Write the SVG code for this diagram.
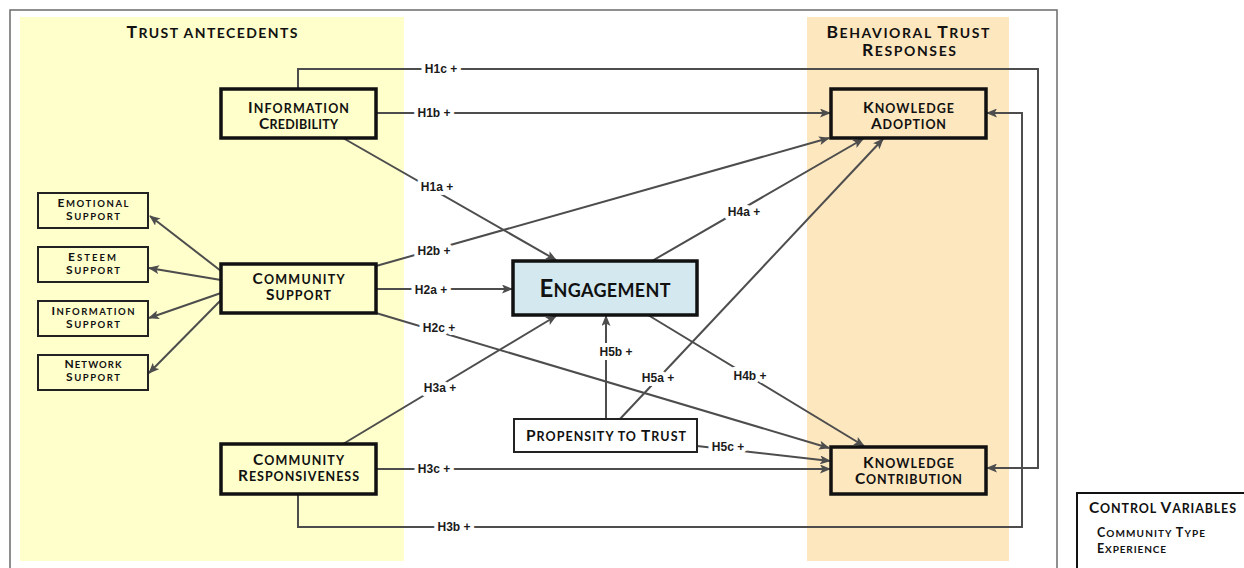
<svg xmlns="http://www.w3.org/2000/svg" width="1244" height="568" viewBox="0 0 1244 568">
<style>
.ln{fill:none;stroke:#4d4d4d;stroke-width:2}
.ar{marker-end:url(#ah)}
.nd{stroke:#111;stroke-width:3.5}
.th{stroke:#222;stroke-width:2}
.t{font-family:Lato,"Open Sans",sans-serif;font-weight:bold;fill:#111;text-anchor:middle}
.n{font-size:12.5px}.n .b{font-size:15.5px}
.e{font-size:18px}.e .b{font-size:24px}
.s{font-size:9.5px}.s .b{font-size:12px}
.h{font-size:14px}.h .b{font-size:17.5px}
.cs{font-size:10px}.cs .b{font-size:12.5px}
.lb{font-family:"Liberation Sans",Arial,sans-serif;font-weight:bold;font-size:12px;fill:#1a1a1a;text-anchor:middle;stroke:#fff;stroke-width:8;paint-order:stroke;stroke-linejoin:round}
</style>
<defs>
<marker id="ah" markerWidth="11" markerHeight="9" refX="10" refY="4.5" orient="auto" markerUnits="userSpaceOnUse"><path d="M0,0 L11,4.5 L0,9 L2.5,4.5 Z" fill="#4d4d4d"/></marker>
</defs>
<rect width="1244" height="568" fill="#fff"/>
<rect x="10" y="10" width="1047" height="600" fill="none" stroke="#6b6b6b" stroke-width="1.5"/>
<g id="panels">
<rect x="20" y="17" width="384" height="544" fill="#FFFFCC"/>
<rect x="807" y="17" width="202" height="544" fill="#FDE7BF"/>
<text class="t h" x="212" y="38" textLength="171" lengthAdjust="spacing"><tspan class="b">T</tspan>RUST ANTECEDENTS</text>
<text class="t h" x="908" y="38" textLength="163" lengthAdjust="spacing"><tspan class="b">B</tspan>EHAVIORAL <tspan class="b">T</tspan>RUST</text>
<text class="t h" x="909" y="56" textLength="94" lengthAdjust="spacing"><tspan class="b">R</tspan>ESPONSES</text>
</g>
<g id="connectors">
<path class="ln ar" d="M298,89 V69 H1038 V468 H987"/>
<path class="ln ar" d="M298,494 V527 H1022 V113 H987"/>
<path class="ln ar" d="M376,113 H830"/>
<path class="ln ar" d="M343,138 L556,260"/>
<path class="ln ar" d="M376,266 L829,138"/>
<path class="ln ar" d="M376,289 H512"/>
<path class="ln ar" d="M376,313 L829,448"/>
<path class="ln ar" d="M343,444 L556,316"/>
<path class="ln ar" d="M376,469 H830"/>
<path class="ln ar" d="M652,261 L863,139"/>
<path class="ln ar" d="M648,315 L864,446"/>
<path class="ln ar" d="M620,419 L883,139"/>
<path class="ln ar" d="M606,419 V316"/>
<path class="ln ar" d="M697,446 L830,461"/>
<path class="ln ar" d="M221,271 L150,216"/>
<path class="ln ar" d="M221,280 L149,268"/>
<path class="ln ar" d="M221,293 L149,318"/>
<path class="ln ar" d="M221,300 L149,373"/>
<text class="lb" x="441" y="73">H1c +</text>
<text class="lb" x="434" y="117">H1b +</text>
<text class="lb" x="437" y="191">H1a +</text>
<text class="lb" x="434" y="255">H2b +</text>
<text class="lb" x="431" y="294">H2a +</text>
<text class="lb" x="439" y="332">H2c +</text>
<text class="lb" x="440" y="392">H3a +</text>
<text class="lb" x="434" y="473">H3c +</text>
<text class="lb" x="454" y="531">H3b +</text>
<text class="lb" x="744" y="216">H4a +</text>
<text class="lb" x="750" y="380">H4b +</text>
<text class="lb" x="658" y="382">H5a +</text>
<text class="lb" x="616" y="356">H5b +</text>
<text class="lb" x="728" y="451">H5c +</text>
</g>
<g id="information-credibility">
<rect class="nd" x="221" y="89" width="155" height="49" fill="#FFFFCC"/>
<text class="t n" x="298.5" y="113" textLength="101" lengthAdjust="spacing"><tspan class="b">I</tspan>NFORMATION</text>
<text class="t n" x="298.5" y="129" textLength="79" lengthAdjust="spacing"><tspan class="b">C</tspan>REDIBILITY</text>
</g>
<g id="community-support">
<rect class="nd" x="221" y="264" width="155" height="49" fill="#FFFFCC"/>
<text class="t n" x="298.5" y="284" textLength="92" lengthAdjust="spacing"><tspan class="b">C</tspan>OMMUNITY</text>
<text class="t n" x="298.5" y="300" textLength="65" lengthAdjust="spacing"><tspan class="b">S</tspan>UPPORT</text>
</g>
<g id="community-responsiveness">
<rect class="nd" x="221" y="444" width="155" height="50" fill="#FFFFCC"/>
<text class="t n" x="298.5" y="465" textLength="91" lengthAdjust="spacing"><tspan class="b">C</tspan>OMMUNITY</text>
<text class="t n" x="298.5" y="481" textLength="121" lengthAdjust="spacing"><tspan class="b">R</tspan>ESPONSIVENESS</text>
</g>
<g id="engagement">
<rect class="nd" x="513" y="261" width="184" height="54" fill="#D3E9EF"/>
<text class="t e" x="605" y="297" textLength="131" lengthAdjust="spacing"><tspan class="b">E</tspan>NGAGEMENT</text>
</g>
<g id="propensity-to-trust">
<rect class="th" x="514" y="419" width="183" height="33" fill="#fff"/>
<text class="t n" x="606" y="441" textLength="160" lengthAdjust="spacing"><tspan class="b">P</tspan>ROPENSITY TO <tspan class="b">T</tspan>RUST</text>
</g>
<g id="knowledge-adoption">
<rect class="nd" x="831" y="89" width="155" height="49" fill="#FDE7BF"/>
<text class="t n" x="908.5" y="113" textLength="91" lengthAdjust="spacing"><tspan class="b">K</tspan>NOWLEDGE</text>
<text class="t n" x="908.5" y="129" textLength="75" lengthAdjust="spacing"><tspan class="b">A</tspan>DOPTION</text>
</g>
<g id="knowledge-contribution">
<rect class="nd" x="831" y="447" width="155" height="47" fill="#FDE7BF"/>
<text class="t n" x="908.5" y="468" textLength="91" lengthAdjust="spacing"><tspan class="b">K</tspan>NOWLEDGE</text>
<text class="t n" x="908.5" y="484" textLength="107" lengthAdjust="spacing"><tspan class="b">C</tspan>ONTRIBUTION</text>
</g>
<g id="emotional-support">
<rect class="th" x="38" y="193" width="110" height="35" fill="#FFFFCC"/>
<text class="t s" x="93" y="207" textLength="71" lengthAdjust="spacing"><tspan class="b">E</tspan>MOTIONAL</text>
<text class="t s" x="93" y="220" textLength="54" lengthAdjust="spacing"><tspan class="b">S</tspan>UPPORT</text>
</g>
<g id="esteem-support">
<rect class="th" x="38" y="247" width="110" height="35" fill="#FFFFCC"/>
<text class="t s" x="92" y="261" textLength="48" lengthAdjust="spacing"><tspan class="b">E</tspan>STEEM</text>
<text class="t s" x="93" y="274" textLength="54" lengthAdjust="spacing"><tspan class="b">S</tspan>UPPORT</text>
</g>
<g id="information-support">
<rect class="th" x="38" y="301" width="110" height="35" fill="#FFFFCC"/>
<text class="t s" x="93" y="315" textLength="83" lengthAdjust="spacing"><tspan class="b">I</tspan>NFORMATION</text>
<text class="t s" x="93" y="328" textLength="54" lengthAdjust="spacing"><tspan class="b">S</tspan>UPPORT</text>
</g>
<g id="network-support">
<rect class="th" x="38" y="355" width="110" height="35" fill="#FFFFCC"/>
<text class="t s" x="93" y="368" textLength="57" lengthAdjust="spacing"><tspan class="b">N</tspan>ETWORK</text>
<text class="t s" x="93" y="381" textLength="54" lengthAdjust="spacing"><tspan class="b">S</tspan>UPPORT</text>
</g>
<g id="control-variables">
<rect x="1077" y="493" width="180" height="90" fill="#fff" stroke="#111" stroke-width="2"/>
<text class="t n" x="1162.5" y="513" textLength="147" lengthAdjust="spacing"><tspan class="b">C</tspan>ONTROL <tspan class="b">V</tspan>ARIABLES</text>
<text class="t cs" x="1151" y="537" textLength="108" lengthAdjust="spacing"><tspan class="b">C</tspan>OMMUNITY <tspan class="b">T</tspan>YPE</text>
<text class="t cs" x="1131.5" y="553" textLength="69" lengthAdjust="spacing"><tspan class="b">E</tspan>XPERIENCE</text>
</g>
</svg>
